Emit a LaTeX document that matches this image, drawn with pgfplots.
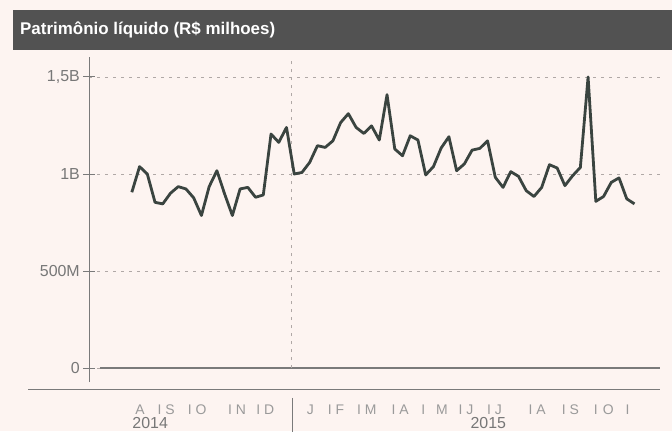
\documentclass[border=0pt]{standalone}
\usepackage{fontspec}
\setmainfont{Liberation Sans}
\usepackage{pgfplots}
\pgfplotsset{compat=1.18}
\definecolor{paper}{HTML}{FDF4F1}
\definecolor{titlebar}{HTML}{525252}
\definecolor{linec}{HTML}{3A4440}
\definecolor{axc}{HTML}{7A7A7A}
\definecolor{labc}{HTML}{777777}
\definecolor{monc}{HTML}{9A9A9A}
\definecolor{gridc}{HTML}{B0A8A6}
\pgfplotstableread{
x y
0 906
1 1038
2 1000
3 854
4 846
5 901
6 935
7 923
8 877
9 786
10 935
11 1017
12 897
13 786
14 923
15 931
16 880
17 892
18 1206
19 1163
20 1240
21 1000
22 1008
23 1060
24 1146
25 1137
26 1171
27 1265
28 1311
29 1240
30 1209
31 1248
32 1175
33 1409
34 1129
35 1094
36 1197
37 1175
38 995
39 1038
40 1134
41 1192
42 1017
43 1052
44 1123
45 1132
46 1171
47 983
48 931
49 1012
50 988
51 914
52 884
53 931
54 1048
55 1031
56 940
57 991
58 1034
59 1500
60 859
61 884
62 957
63 980
64 872
65 846
}\datatable
\begin{document}
\begin{tikzpicture}[x=1bp,y=1bp]
\fill[paper] (0,0) rectangle (672,431);
\useasboundingbox (0,0) rectangle (672,431);
\fill[titlebar] (13,381) rectangle (672,421);
\node[anchor=west, text=white, font=\fontsize{17}{19}\selectfont\bfseries, inner sep=0] at (20,401) {Patrimônio líquido (R\$ milhoes)};
\begin{axis}[
  at={(89.3bp,49bp)}, anchor=south west, scale only axis,
  width=570.7bp, height=325bp,
  xmin=-5.5, xmax=68.3, ymin=-72, ymax=1603,
  clip=false,
  axis lines=left,
  x axis line style={draw=none},
  y axis line style={-, draw=axc, line width=1bp},
  ytick={0,500,1000,1500},
  yticklabels={0,500M,1B,{1,5B}},
  tick align=center,
  major tick length=12bp,
  ytick style={draw=axc, line width=1bp},
  yticklabel style={text=labc, font=\fontsize{16}{16}\selectfont},
  ymajorgrids,
  grid style={dash pattern=on 3bp off 5bp, draw=gridc, line width=0.8bp},
  xtick={1.07,4.44,8.45,13.6,17.25,23.07,26.4,30.4,34.7,37.7,40.1,43.2,46.9,52.4,56.7,60.0,61.6,64.1},
  xticklabels={A,I S,I O,I N,I D,J,I F,I M,I A,I,M,I J,I J,I A,I S,I,O,I},
  xtick style={draw=none},
  xticklabel style={text=monc, font=\fontsize{14}{14}\selectfont, anchor=north, yshift=-13bp},
]
\draw[axc, line width=1.3bp] (axis cs:-4.1,0) -- (axis cs:68.3,0);
\draw[axc, line width=1bp] (axis cs:-13.4,-113) -- (axis cs:68.3,-113);
\draw[axc, line width=1bp] (axis cs:20.75,-154) -- (axis cs:20.75,-330);
\draw[dash pattern=on 3bp off 5bp, draw=gridc, line width=0.8bp] (axis cs:20.6,0) -- (axis cs:20.6,1603);
\node[text=labc, font=\fontsize{16}{16}\selectfont, inner sep=0] at (axis cs:2.37,-283) {2014};
\node[text=labc, font=\fontsize{16}{16}\selectfont, inner sep=0] at (axis cs:46.1,-283) {2015};
\addplot[linec, line width=2.8bp, line join=round, mark=none] table[x=x,y=y] {\datatable};
\end{axis}
\end{tikzpicture}
\end{document}
